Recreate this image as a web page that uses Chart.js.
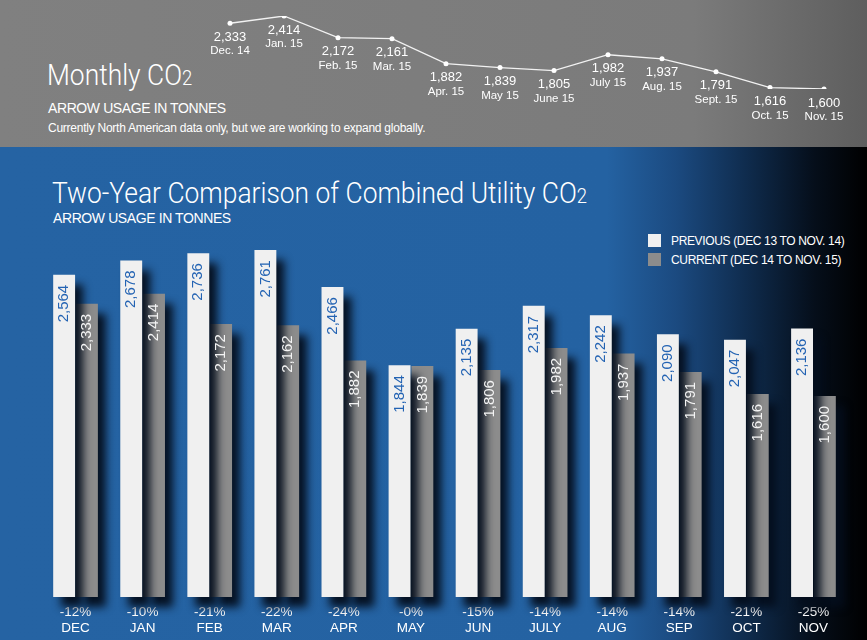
<!DOCTYPE html>
<html lang="en">
<head>
  <meta charset="UTF-8">
  <title>Monthly CO2</title>
  <script src="https://cdn.jsdelivr.net/npm/chart.js"></script>
  <style>
    body {
      margin: 0;
      font-family: "Liberation Sans", Arial, sans-serif;
    }

    #pagina {
      position: relative;
      width: 867px;
      height: 640px;
      overflow: hidden;
      color: #fff;
    }

    #topo {
      position: absolute;
      left: 0;
      top: 0;
      width: 867px;
      height: 147px;
      background: linear-gradient(to right, #808080 0%, #7b7b7b 80%, #5e5e5e 100%);
    }

    #fundo {
      position: absolute;
      left: 0;
      top: 147px;
      width: 867px;
      height: 493px;
      background: linear-gradient(to right, #2563a3 0%, #2462a2 70%, #1b4a80 78%, #0f2c4e 86%, #050e1a 94%, #000 100%);
    }

    .titulo {
      position: absolute;
      font-family: Roboto, "Liberation Sans", sans-serif;
      font-weight: 300;
      line-height: 1;
      white-space: nowrap;
      transform: scaleX(0.88);
      transform-origin: left top;
    }

    .titulo span {
      font-size: 0.7em;
    }

    .sub {
      position: absolute;
      font-size: 14px;
      line-height: 1;
      letter-spacing: -0.4px;
      white-space: nowrap;
    }

    canvas {
      position: absolute;
      left: 0;
    }

    #legenda {
      position: absolute;
      left: 648px;
      top: 231px;
      font-size: 12px;
      letter-spacing: -0.35px;
    }

    #legenda div {
      display: flex;
      align-items: center;
      height: 19px;
    }

    #legenda i {
      display: inline-block;
      width: 13px;
      height: 13px;
      margin-right: 10px;
    }
  </style>
</head>
<body>
  <div id="pagina">
    <div id="topo"></div>
    <div id="fundo"></div>

    <div class="titulo" style="left:47px; top:60px; font-size:30px;">Monthly CO<span>2</span></div>
    <div class="sub" style="left:48px; top:101px;">ARROW USAGE IN TONNES</div>
    <div class="sub" style="left:48px; top:122px; font-size:12px; letter-spacing:-0.25px;">Currently North American data only, but we are working to expand globally.</div>

    <div class="titulo" style="left:52px; top:178px; font-size:30px;">Two-Year Comparison of Combined Utility CO<span>2</span></div>
    <div class="sub" style="left:53px; top:211px;">ARROW USAGE IN TONNES</div>

    <div id="legenda"></div>

    <canvas id="linha" style="top:0; width:867px; height:147px;"></canvas>
    <canvas id="barras" style="top:210px; width:867px; height:430px;"></canvas>
  </div>

  <script>
    // Gráfico do topo: CO2 mensal
    const mesesLinha = ['Dec. 14', 'Jan. 15', 'Feb. 15', 'Mar. 15', 'Apr. 15', 'May 15', 'June 15', 'July 15', 'Aug. 15', 'Sept. 15', 'Oct. 15', 'Nov. 15'];
    const co2Mensal = [2333, 2414, 2172, 2161, 1882, 1839, 1805, 1982, 1937, 1791, 1616, 1600];

    // Comparação de dois anos
    const meses = ['DEC', 'JAN', 'FEB', 'MAR', 'APR', 'MAY', 'JUN', 'JULY', 'AUG', 'SEP', 'OCT', 'NOV'];
    const variacao = ['-12%', '-10%', '-21%', '-22%', '-24%', '-0%', '-15%', '-14%', '-14%', '-14%', '-21%', '-25%'];
    const anterior = [2564, 2678, 2736, 2761, 2466, 1844, 2135, 2317, 2242, 2090, 2047, 2136];
    const atual = [2333, 2414, 2172, 2162, 1882, 1839, 1806, 1982, 1937, 1791, 1616, 1600];
    const nomesSeries = ['PREVIOUS (DEC 13 TO NOV. 14)', 'CURRENT (DEC 14 TO NOV. 15)'];

    const coresBarras = ['#f0f0f0', '#8c8c8c'];
    const coresTexto = ['#2363b3', '#f4f4f4'];

    const fmt = (v) => v.toLocaleString('en-US');

    const rotulosLinha = {
      id: 'rotulosLinha',
      afterDatasetsDraw(chart) {
        const { ctx } = chart;
        const meta = chart.getDatasetMeta(0);
        ctx.save();
        ctx.fillStyle = '#fff';
        ctx.textAlign = 'center';
        ctx.textBaseline = 'middle';
        meta.data.forEach((p, i) => {
          ctx.font = '13px "Liberation Sans", Arial';
          ctx.fillText(fmt(co2Mensal[i]), p.x, p.y + 14);
          ctx.font = '11.5px "Liberation Sans", Arial';
          ctx.fillText(mesesLinha[i], p.x, p.y + 28);
        });
        ctx.restore();
      }
    };

    new Chart(document.getElementById('linha'), {
      type: 'line',
      data: {
        labels: mesesLinha,
        datasets: [{
          data: co2Mensal,
          borderColor: '#f2f2f2',
          borderWidth: 1.3,
          pointRadius: 2.5,
          pointBackgroundColor: '#fff',
          pointBorderWidth: 0,
          tension: 0
        }]
      },
      options: {
        responsive: false,
        animation: false,
        layout: { padding: { left: 230, right: 43, top: 16, bottom: 58 } },
        scales: {
          x: { display: false, offset: false },
          y: { display: false, min: 1600, max: 2414 }
        },
        plugins: { legend: { display: false }, tooltip: { enabled: false } }
      },
      plugins: [rotulosLinha]
    });

    // sombra atrás das barras
    const sombra = {
      id: 'sombra',
      beforeDatasetsDraw(chart) {
        const ctx = chart.ctx;
        ctx.save();
        ctx.shadowColor = 'rgba(4, 14, 28, 0.95)';
        ctx.shadowBlur = 9;
        ctx.shadowOffsetX = 8;
        ctx.shadowOffsetY = 10;
      },
      afterDatasetsDraw(chart) {
        chart.ctx.restore();
      }
    };

    const valoresBarras = {
      id: 'valoresBarras',
      afterDatasetsDraw(chart) {
        const { ctx } = chart;
        chart.data.datasets.forEach((ds, d) => {
          chart.getDatasetMeta(d).data.forEach((bar, i) => {
            ctx.save();
            ctx.translate(bar.x, bar.y + 10);
            ctx.rotate(-Math.PI / 2);
            ctx.font = '15px "Liberation Sans", Arial';
            ctx.fillStyle = coresTexto[d];
            ctx.textAlign = 'right';
            ctx.textBaseline = 'middle';
            ctx.fillText(fmt(ds.data[i]), 0, 0);
            ctx.restore();
          });
        });
      }
    };

    const grafico = new Chart(document.getElementById('barras'), {
      type: 'bar',
      data: {
        labels: meses.map((m, i) => [variacao[i], m]),
        datasets: [anterior, atual].map((serie, d) => ({
          label: nomesSeries[d],
          data: serie,
          backgroundColor: coresBarras[d],
          borderWidth: 0,
          categoryPercentage: 0.68,
          barPercentage: 0.96,
          clip: false
        }))
      },
      options: {
        responsive: false,
        animation: false,
        layout: { padding: { left: 42, right: 20, top: 10, bottom: 0 } },
        scales: {
          x: {
            grid: { display: false, drawTicks: false },
            border: { display: false },
            afterFit: (s) => { s.height = 43; },
            ticks: {
              color: '#fff',
              padding: 7,
              font: { family: '"Liberation Sans", Arial', size: 13.5 }
            }
          },
          y: { display: false, min: 0, max: 3000 }
        },
        plugins: { legend: { display: false }, tooltip: { enabled: false } }
      },
      plugins: [sombra, valoresBarras]
    });

    // legenda
    const legenda = document.getElementById('legenda');
    grafico.data.datasets.forEach((ds) => {
      const linha = document.createElement('div');
      linha.innerHTML = `<i style="background:${ds.backgroundColor}"></i>${ds.label}`;
      legenda.appendChild(linha);
    });
  </script>
</body>
</html>
